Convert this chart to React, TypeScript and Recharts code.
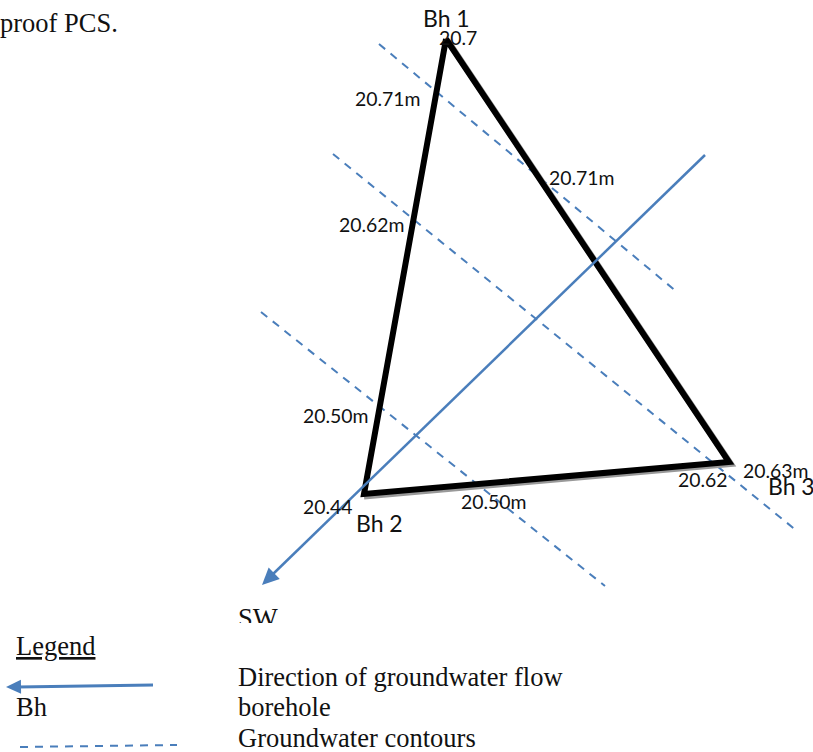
import React from "react";
import { ComposedChart, Line, Scatter, XAxis, YAxis } from "recharts";

const W = 813;
const H = 752;
const BLUE = "#4a7ebb";

type P = { x: number; y: number };
type L = P & { text: string };

// Boreholes (closed triangle) and its grey shadow edge
const triangle: P[] = [
  { x: 446, y: 39 },
  { x: 364, y: 494 },
  { x: 729, y: 462 },
  { x: 446, y: 39 },
];
const shadow: P[] = [
  { x: 448, y: 41 },
  { x: 731, y: 464 },
  { x: 364, y: 496.5 },
];

// Groundwater contours
const contourA: P[] = [{ x: 379, y: 44 }, { x: 677, y: 292 }];
const contourB: P[] = [{ x: 333, y: 154 }, { x: 797, y: 531 }];
const contourC: P[] = [{ x: 261, y: 312 }, { x: 605, y: 586 }];

// Flow direction
const flow: P[] = [{ x: 705, y: 155 }, { x: 272, y: 575 }];
const flowTip: P[] = [{ x: 262, y: 585 }];

// Legend symbols
const legendArrow: P[] = [{ x: 153, y: 685 }, { x: 18, y: 687 }];
const legendTip: P[] = [{ x: 6, y: 687 }];
const legendDash: P[] = [{ x: 20, y: 747 }, { x: 177, y: 745 }];

// Sans labels (baseline-left anchored)
const levelLabels: L[] = [
  { x: 439, y: 45, text: "20.7" },
  { x: 355, y: 106, text: "20.71m" },
  { x: 549, y: 185, text: "20.71m" },
  { x: 339, y: 232, text: "20.62m" },
  { x: 303, y: 423, text: "20.50m" },
  { x: 303, y: 514, text: "20.44" },
  { x: 461, y: 509, text: "20.50m" },
  { x: 678, y: 487, text: "20.62" },
  { x: 743, y: 478, text: "20.63m" },
];
const boreholeLabels: L[] = [
  { x: 423, y: 27, text: "Bh 1" },
  { x: 356, y: 532, text: "Bh 2" },
  { x: 768, y: 495, text: "Bh 3" },
];
// Serif labels
const serifLabels: L[] = [
  { x: 0, y: 32, text: "proof PCS." },
  { x: 238, y: 686, text: "Direction of groundwater flow" },
  { x: 238, y: 716, text: "borehole" },
  { x: 238, y: 747, text: "Groundwater contours" },
  { x: 16, y: 716, text: "Bh" },
];
const legendTitle: L[] = [{ x: 16, y: 655, text: "Legend" }];
const swLabel: L[] = [{ x: 238, y: 627, text: "SW" }];

const SANS = "Lato, Carlito, sans-serif";
const SERIF = "'Liberation Serif', 'Times New Roman', serif";
const SANS_SIZE = 19.4;
const BH_SIZE = 23;
const SERIF_SIZE = 26.5;

const textShape =
  (fontFamily: string, fontSize: number, extra: Record<string, unknown> = {}) =>
  (props: any) =>
    (
      <text x={props.cx} y={props.cy} fontFamily={fontFamily} fontSize={fontSize} fill="#111" {...extra}>
        {props.payload.text}
      </text>
    );

const clippedText = (props: any) => (
  <g>
    <clipPath id="sw-clip">
      <rect x={props.cx - 5} y={props.cy - 30} width={60} height={26} />
    </clipPath>
    <text x={props.cx} y={props.cy} fontFamily={SERIF} fontSize={SERIF_SIZE} fill="#111" clipPath="url(#sw-clip)">
      {props.payload.text}
    </text>
  </g>
);

const arrowHead = (from: P, to: P, len: number, half: number) => (props: any) => {
  const a = (Math.atan2(to.y - from.y, to.x - from.x) * 180) / Math.PI;
  return (
    <polygon
      points={`0,0 ${-len},${-half} ${-len},${half}`}
      fill={BLUE}
      transform={`translate(${props.cx} ${props.cy}) rotate(${a})`}
    />
  );
};

const seg = (key: string, data: P[], stroke: string, width: number, dash?: string) => (
  <Line
    key={key}
    data={data}
    dataKey="y"
    stroke={stroke}
    strokeWidth={width}
    strokeDasharray={dash}
    strokeLinejoin="miter"
    type="linear"
    dot={false}
    activeDot={false}
    legendType="none"
    isAnimationActive={false}
  />
);

export default function App() {
  return (
    <div style={{ position: "absolute", left: 0, top: 0, width: W, height: H, background: "#fff" }}>
      <ComposedChart width={W} height={H} margin={{ top: 0, right: 0, bottom: 0, left: 0 }}>
        <XAxis type="number" dataKey="x" domain={[0, W]} hide allowDataOverflow />
        <YAxis type="number" dataKey="y" domain={[0, H]} reversed hide allowDataOverflow width={0} />
        {seg("cA", contourA, BLUE, 2, "8 7")}
        {seg("cB", contourB, BLUE, 2, "8 7")}
        {seg("cC", contourC, BLUE, 2, "8 7")}
        {seg("shadow", shadow, "#999999", 6)}
        {seg("tri", triangle, "#000000", 6)}
        {seg("flow", flow, BLUE, 2.5)}
        {seg("legendArrow", legendArrow, BLUE, 3)}
        {seg("legendDash", legendDash, BLUE, 2, "8 7")}
        <Scatter data={flowTip} dataKey="y" shape={arrowHead(flow[0], flowTip[0], 17, 8)} isAnimationActive={false} />
        <Scatter data={legendTip} dataKey="y" shape={arrowHead(legendArrow[0], legendTip[0], 15, 7)} isAnimationActive={false} />
        <Scatter data={levelLabels} dataKey="y" shape={textShape(SANS, SANS_SIZE)} isAnimationActive={false} />
        <Scatter data={boreholeLabels} dataKey="y" shape={textShape(SANS, BH_SIZE)} isAnimationActive={false} />
        <Scatter data={serifLabels} dataKey="y" shape={textShape(SERIF, SERIF_SIZE)} isAnimationActive={false} />
        <Scatter data={legendTitle} dataKey="y" shape={textShape(SERIF, SERIF_SIZE, { textDecoration: "underline" })} isAnimationActive={false} />
        <Scatter data={swLabel} dataKey="y" shape={clippedText} isAnimationActive={false} />
      </ComposedChart>
    </div>
  );
}
